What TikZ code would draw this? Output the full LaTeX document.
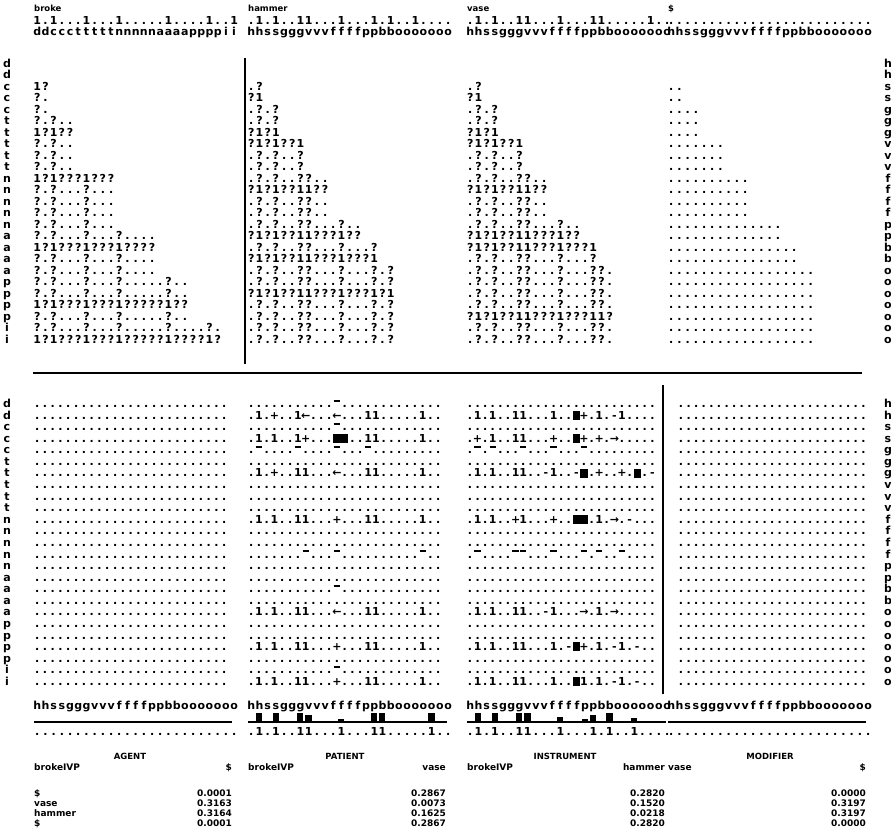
\documentclass[tikz,border=0pt]{standalone}
\usepackage{fontspec}
\setmainfont{DejaVu Sans}
\newlength\cw
\setlength\cw{8.2pt}
\newlength\bcw
\setlength\bcw{7.8pt}
\def\grow#1{\growi#1\relax}
\def\growi#1{\ifx\relax#1\else\makebox[\cw]{#1}\expandafter\growi\fi}
\newcommand\ov{\rule[6pt]{6.4pt}{1.8pt}}
\newcommand\blk{\rule[-0.8pt]{7.2pt}{9pt}}
\def\Dd{.........................}
\newcommand\trow[4]{\node[gr] (#1) at (#2,{67+11.5*#3}) {\grow{#4}};}
\newcommand\brow[4]{\node[gr] (#1) at (#2,{407.5+11.58*#3}) {\cw=\bcw\grow{#4}};}
\newcommand\vbarx[3]{\fill ({#1+8.2*#2+1},722) rectangle ++(6.2,-#3);}
\begin{document}
\begin{tikzpicture}[x=1pt,y=-1pt,
  gr/.style={inner sep=0pt,anchor=base west,font=\fontsize{11}{11}\selectfont\bfseries},
  lab/.style={inner sep=0pt,anchor=base,font=\fontsize{11}{11}\selectfont\bfseries},
  hd/.style={inner sep=0pt,anchor=base west,font=\fontsize{8.5}{8.5}\selectfont\bfseries},
  lo/.style={inner sep=0pt,anchor=base west,font=\fontsize{9}{9}\selectfont\bfseries},
  lor/.style={inner sep=0pt,anchor=base east,font=\fontsize{9}{9}\selectfont\bfseries},
  rl/.style={inner sep=0pt,anchor=base,font=\fontsize{8.5}{8.5}\selectfont\bfseries}]
\useasboundingbox[fill=white] (0,0) rectangle (891,830);

% ---------- top headers ----------
\node[hd] (wbroke) at (34,11) {broke};
\node[hd] (whammer) at (248,11) {hammer};
\node[hd] (wvase) at (467,11) {vase};
\node[hd] (wnull) at (668,11) {\$};
\node[gr] (val1) at (33,24) {\grow{1.1...1...1.....1....1..1}};
\node[gr] (val2) at (247,24) {\grow{.1.1..11...1...1.1..1....}};
\node[gr] (val3) at (466,24) {\grow{.1.1..11...1...11.....1..}};
\node[gr] (val4) at (667,24) {\expandafter\grow\expandafter{\Dd}};
\node[gr] (fea1) at (33,35) {\grow{ddccctttttnnnnnaaaappppii}};
\node[gr] (fea2) at (247,35) {\grow{hhssgggvvvffffppbbooooooo}};
\node[gr] (fea3) at (466,35) {\grow{hhssgggvvvffffppbbooooooo}};
\node[gr] (fea4) at (667,35) {\grow{hhssgggvvvffffppbbooooooo}};

% ---------- row labels ----------
\foreach \c [count=\k from 0] in {d,d,c,c,c,t,t,t,t,t,n,n,n,n,n,a,a,a,a,p,p,p,p,i,i}{
  \node[lab] (tl\k) at (7,{67+11.5*\k}) {\c};
  \node[lab] (bl\k) at (7,{407.5+11.58*\k}) {\c};
}
\foreach \c [count=\k from 0] in {h,h,s,s,g,g,g,v,v,v,f,f,f,f,p,p,b,b,o,o,o,o,o,o,o}{
  \node[lab] (tr\k) at (888,{67+11.5*\k}) {\c};
  \node[lab] (br\k) at (888,{407.5+11.58*\k}) {\c};
}

% ---------- top matrix: broke ----------
\trow{a2}{33}{2}{1?}
\trow{a3}{33}{3}{?.}
\trow{a4}{33}{4}{?.}
\trow{a5}{33}{5}{?.?..}
\trow{a6}{33}{6}{1?1??}
\trow{a7}{33}{7}{?.?..}
\trow{a8}{33}{8}{?.?..}
\trow{a9}{33}{9}{?.?..}
\trow{a10}{33}{10}{1?1???1???}
\trow{a11}{33}{11}{?.?...?...}
\trow{a12}{33}{12}{?.?...?...}
\trow{a13}{33}{13}{?.?...?...}
\trow{a14}{33}{14}{?.?...?...}
\trow{a15}{33}{15}{?.?...?...?....}
\trow{a16}{33}{16}{1?1???1???1????}
\trow{a17}{33}{17}{?.?...?...?....}
\trow{a18}{33}{18}{?.?...?...?....}
\trow{a19}{33}{19}{?.?...?...?.....?..}
\trow{a20}{33}{20}{?.?...?...?.....?..}
\trow{a21}{33}{21}{1?1???1???1?????1??}
\trow{a22}{33}{22}{?.?...?...?.....?..}
\trow{a23}{33}{23}{?.?...?...?.....?....?.}
\trow{a24}{33}{24}{1?1???1???1?????1????1?}

% ---------- top matrix: hammer ----------
\trow{h2}{247}{2}{.?}
\trow{h3}{247}{3}{?1}
\trow{h4}{247}{4}{.?.?}
\trow{h5}{247}{5}{.?.?}
\trow{h6}{247}{6}{?1?1}
\trow{h7}{247}{7}{?1?1??1}
\trow{h8}{247}{8}{.?.?..?}
\trow{h9}{247}{9}{.?.?..?}
\trow{h10}{247}{10}{.?.?..??..}
\trow{h11}{247}{11}{?1?1??11??}
\trow{h12}{247}{12}{.?.?..??..}
\trow{h13}{247}{13}{.?.?..??..}
\trow{h14}{247}{14}{.?.?..??...?..}
\trow{h15}{247}{15}{?1?1??11???1??}
\trow{h16}{247}{16}{.?.?..??...?...?}
\trow{h17}{247}{17}{?1?1??11???1???1}
\trow{h18}{247}{18}{.?.?..??...?...?.?}
\trow{h19}{247}{19}{.?.?..??...?...?.?}
\trow{h20}{247}{20}{?1?1??11???1???1?1}
\trow{h21}{247}{21}{.?.?..??...?...?.?}
\trow{h22}{247}{22}{.?.?..??...?...?.?}
\trow{h23}{247}{23}{.?.?..??...?...?.?}
\trow{h24}{247}{24}{.?.?..??...?...?.?}

% ---------- top matrix: vase ----------
\trow{v2}{466}{2}{.?}
\trow{v3}{466}{3}{?1}
\trow{v4}{466}{4}{.?.?}
\trow{v5}{466}{5}{.?.?}
\trow{v6}{466}{6}{?1?1}
\trow{v7}{466}{7}{?1?1??1}
\trow{v8}{466}{8}{.?.?..?}
\trow{v9}{466}{9}{.?.?..?}
\trow{v10}{466}{10}{.?.?..??..}
\trow{v11}{466}{11}{?1?1??11??}
\trow{v12}{466}{12}{.?.?..??..}
\trow{v13}{466}{13}{.?.?..??..}
\trow{v14}{466}{14}{.?.?..??...?..}
\trow{v15}{466}{15}{?1?1??11???1??}
\trow{v16}{466}{16}{?1?1??11???1???1}
\trow{v17}{466}{17}{.?.?..??...?...?}
\trow{v18}{466}{18}{.?.?..??...?...??.}
\trow{v19}{466}{19}{.?.?..??...?...??.}
\trow{v20}{466}{20}{.?.?..??...?...??.}
\trow{v21}{466}{21}{.?.?..??...?...??.}
\trow{v22}{466}{22}{?1?1??11???1???11?}
\trow{v23}{466}{23}{.?.?..??...?...??.}
\trow{v24}{466}{24}{.?.?..??...?...??.}

% ---------- top matrix: $ ----------
\trow{n2}{667}{2}{..}
\trow{n3}{667}{3}{..}
\trow{n4}{667}{4}{....}
\trow{n5}{667}{5}{....}
\trow{n6}{667}{6}{....}
\trow{n7}{667}{7}{.......}
\trow{n8}{667}{8}{.......}
\trow{n9}{667}{9}{.......}
\trow{n10}{667}{10}{..........}
\trow{n11}{667}{11}{..........}
\trow{n12}{667}{12}{..........}
\trow{n13}{667}{13}{..........}
\trow{n14}{667}{14}{..............}
\trow{n15}{667}{15}{..............}
\trow{n16}{667}{16}{................}
\trow{n17}{667}{17}{................}
\trow{n18}{667}{18}{..................}
\trow{n19}{667}{19}{..................}
\trow{n20}{667}{20}{..................}
\trow{n21}{667}{21}{..................}
\trow{n22}{667}{22}{..................}
\trow{n23}{667}{23}{..................}
\trow{n24}{667}{24}{..................}

% ---------- separators ----------
\draw[line width=1.8pt] (245,58) -- (245,364);
\draw[line width=2.6pt] (33,373) -- (862,373);
\draw[line width=1.3pt] (663,385) -- (663,694);

% ---------- bottom grids ----------
\setlength\bcw{7.8pt}
\foreach \k in {0,...,24}{
  \node[gr] (ag\k) at (33,{407.5+11.58*\k}) {\cw=\bcw\expandafter\grow\expandafter{\Dd}};
}
\foreach \k in {5,7,8,9,11,12,14,15,17,19,20,22}{
  \node[gr] (pt\k) at (247,{407.5+11.58*\k}) {\cw=\bcw\expandafter\grow\expandafter{\Dd}};
}
\brow{pt0}{247}{0}{...........\ov.............}
\brow{pt1}{247}{1}{.1.+..1←...←...11.....1..}
\brow{pt2}{247}{2}{...........\ov.............}
\brow{pt3}{247}{3}{.1.1..1+...\blk\blk..11.....1..}
\brow{pt4}{247}{4}{.\ov....\ov....\ov...\ov.........}
\brow{pt6}{247}{6}{.1.+..11...←...11.....1..}
\brow{pt10}{247}{10}{.1.1..11...+...11.....1..}
\brow{pt13}{247}{13}{.......\ov...\ov..........\ov..}
\brow{pt16}{247}{16}{...........\ov.............}
\brow{pt18}{247}{18}{.1.1..11...←...11.....1..}
\brow{pt21}{247}{21}{.1.1..11...+...11.....1..}
\brow{pt23}{247}{23}{...........\ov.............}
\brow{pt24}{247}{24}{.1.1..11...+...11.....1..}

\setlength\bcw{7.6pt}
\foreach \k in {0,2,5,7,8,9,11,12,14,15,16,17,19,20,22,23}{
  \node[gr] (in\k) at (466,{407.5+11.58*\k}) {\cw=\bcw\expandafter\grow\expandafter{\Dd}};
}
\brow{in1}{466}{1}{.1.1..11...1..\blk+.1.-1....}
\brow{in3}{466}{3}{.+.1..11...+..\blk+.+.→.....}
\brow{in4}{466}{4}{.\ov.\ov...\ov...\ov...\ov.........}
\brow{in6}{466}{6}{.1.1..11..-1..-\blk.+..+.\blk.-}
\brow{in10}{466}{10}{.1.1..+1...+..\blk\blk.1.→.-...}
\brow{in13}{466}{13}{.\ov....\ov\ov...\ov...\ov.\ov..\ov....}
\brow{in18}{466}{18}{.1.1..11..-1...→.1.→.....}
\brow{in21}{466}{21}{.1.1..11...1.-\blk+.1.-1.-..}
\brow{in24}{466}{24}{.1.1..11...1..\blk1.1.-1.-..}

\setlength\bcw{7.6pt}
\foreach \k in {0,...,24}{
  \node[gr] (md\k) at (677,{407.5+11.58*\k}) {\cw=\bcw\expandafter\grow\expandafter{\Dd}};
}

% ---------- feature labels under grids ----------
\node[gr] (fb1) at (33,709) {\grow{hhssgggvvvffffppbbooooooo}};
\node[gr] (fb2) at (247,709) {\grow{hhssgggvvvffffppbbooooooo}};
\node[gr] (fb3) at (466,709) {\grow{hhssgggvvvffffppbbooooooo}};
\node[gr] (fb4) at (667,709) {\grow{hhssgggvvvffffppbbooooooo}};

% bars and base lines
\vbarx{247}{1}{9}\vbarx{247}{3}{9}\vbarx{247}{6}{9}\vbarx{247}{7}{7}
\vbarx{247}{11}{3}\vbarx{247}{15}{9}\vbarx{247}{16}{9}\vbarx{247}{22}{9}
\vbarx{466}{1}{9}\vbarx{466}{3}{9}\vbarx{466}{6}{9}\vbarx{466}{7}{9}
\vbarx{466}{11}{5}\vbarx{466}{14}{3}\vbarx{466}{15}{7}\vbarx{466}{17}{9}\vbarx{466}{20}{4}
\draw[line width=1.8pt] (34,722) -- (232,722);
\draw[line width=1.8pt] (248,722) -- (447,722);
\draw[line width=1.8pt] (467,722) -- (666,722);
\draw[line width=1.8pt] (668,722) -- (866,722);

\node[gr] (ob1) at (33,735) {\expandafter\grow\expandafter{\Dd}};
\node[gr] (ob2) at (247,735) {\grow{.1.1..11...1...11.....1..}};
\node[gr] (ob3) at (466,735) {\grow{.1.1..11...1...1.1..1....}};
\node[gr] (ob4) at (667,735) {\expandafter\grow\expandafter{\Dd}};

% ---------- role read-outs ----------
\node[rl] (ragent) at (130,759) {AGENT};
\node[rl] (rpatient) at (345,759) {PATIENT};
\node[rl] (rinstr) at (565,759) {INSTRUMENT};
\node[rl] (rmod) at (770,759) {MODIFIER};

\node[lo] (c1a) at (34,770.5) {brokeIVP};
\node[lor] (c1b) at (232,770.5) {\$};
\node[lo] (c2a) at (248,770.5) {brokeIVP};
\node[lor] (c2b) at (446,770.5) {vase};
\node[lo] (c3a) at (467,770.5) {brokeIVP};
\node[lor] (c3b) at (665,770.5) {hammer};
\node[lo] (c4a) at (668,770.5) {vase};
\node[lor] (c4b) at (866,770.5) {\$};

\node[lo] (w1) at (34,796.5) {\$};
\node[lo] (w2) at (34,806.5) {vase};
\node[lo] (w3) at (34,816.5) {hammer};
\node[lo] (w4) at (34,826.5) {\$};
\node[lor] (x11) at (232,796.5) {0.0001};
\node[lor] (x12) at (232,806.5) {0.3163};
\node[lor] (x13) at (232,816.5) {0.3164};
\node[lor] (x14) at (232,826.5) {0.0001};
\node[lor] (x21) at (446,796.5) {0.2867};
\node[lor] (x22) at (446,806.5) {0.0073};
\node[lor] (x23) at (446,816.5) {0.1625};
\node[lor] (x24) at (446,826.5) {0.2867};
\node[lor] (x31) at (665,796.5) {0.2820};
\node[lor] (x32) at (665,806.5) {0.1520};
\node[lor] (x33) at (665,816.5) {0.0218};
\node[lor] (x34) at (665,826.5) {0.2820};
\node[lor] (x41) at (866,796.5) {0.0000};
\node[lor] (x42) at (866,806.5) {0.3197};
\node[lor] (x43) at (866,816.5) {0.3197};
\node[lor] (x44) at (866,826.5) {0.0000};
\end{tikzpicture}
\end{document}
